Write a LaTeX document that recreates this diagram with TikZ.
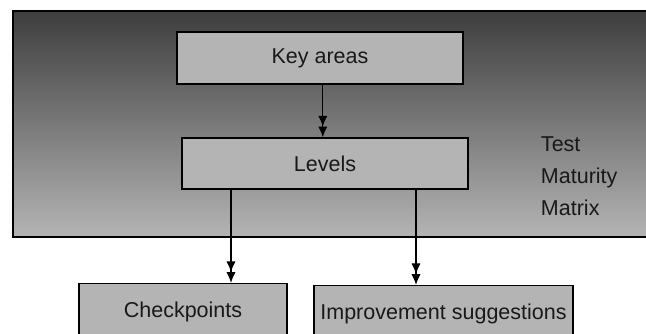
\documentclass[tikz,border=0pt]{standalone}
\usepackage{fontspec}
\setmainfont{Liberation Sans}
\definecolor{boxgray}{RGB}{180,180,180}
\definecolor{darkband}{RGB}{62,62,62}
\usepackage{tikz}
\usetikzlibrary{arrows.meta,positioning,calc}

\begin{document}
\begin{tikzpicture}[
        every node/.style={font=\fontsize{15.3}{22.5}\selectfont, text=black!90},
        box/.style={draw, line width=0.9pt, fill=boxgray, minimum height=1.3cm, inner sep=0pt},
        link/.style={line width=0.9pt, -{Latex[length=2.7mm,width=2.3mm]Latex[length=2.7mm,width=2.3mm]}}
      ]
      \useasboundingbox (0,0) rectangle (16.15,8.35);

      % shaded frame of the matrix
      \shade[top color=darkband, bottom color=boxgray] (0.325,2.425) rectangle (16.4,8.075);
      \draw[line width=0.9pt] (16.4,2.425) -- (0.325,2.425) -- (0.325,8.075) -- (16.4,8.075);

      \node[box, minimum width=7.15cm] (key) at (8.0,6.9) {Key areas};
      \node[box, minimum width=7.15cm, minimum height=1.275cm] (lev) at (8.125,4.2625) {Levels};
      \node[box, minimum width=5.2cm, minimum height=1.4cm, anchor=north] (chk) at (4.575,1.275) {Checkpoints};
      \node[box, minimum width=6.475cm, minimum height=1.4cm, anchor=north] (imp) at (11.0875,1.225) {Improvement suggestions};

      \node[align=left, anchor=north west] (tmm) at (13.4,5.05) {Test\\Maturity\\Matrix};

      \draw[link] (key.south -| 8.07,0) -- (lev.north -| 8.07,0);
      \draw[link] (lev.south -| 5.775,0) -- (chk.north -| 5.775,0);
      \draw[link] (lev.south -| 10.4,0) -- (imp.north -| 10.4,0);
    \end{tikzpicture}
\end{document}
